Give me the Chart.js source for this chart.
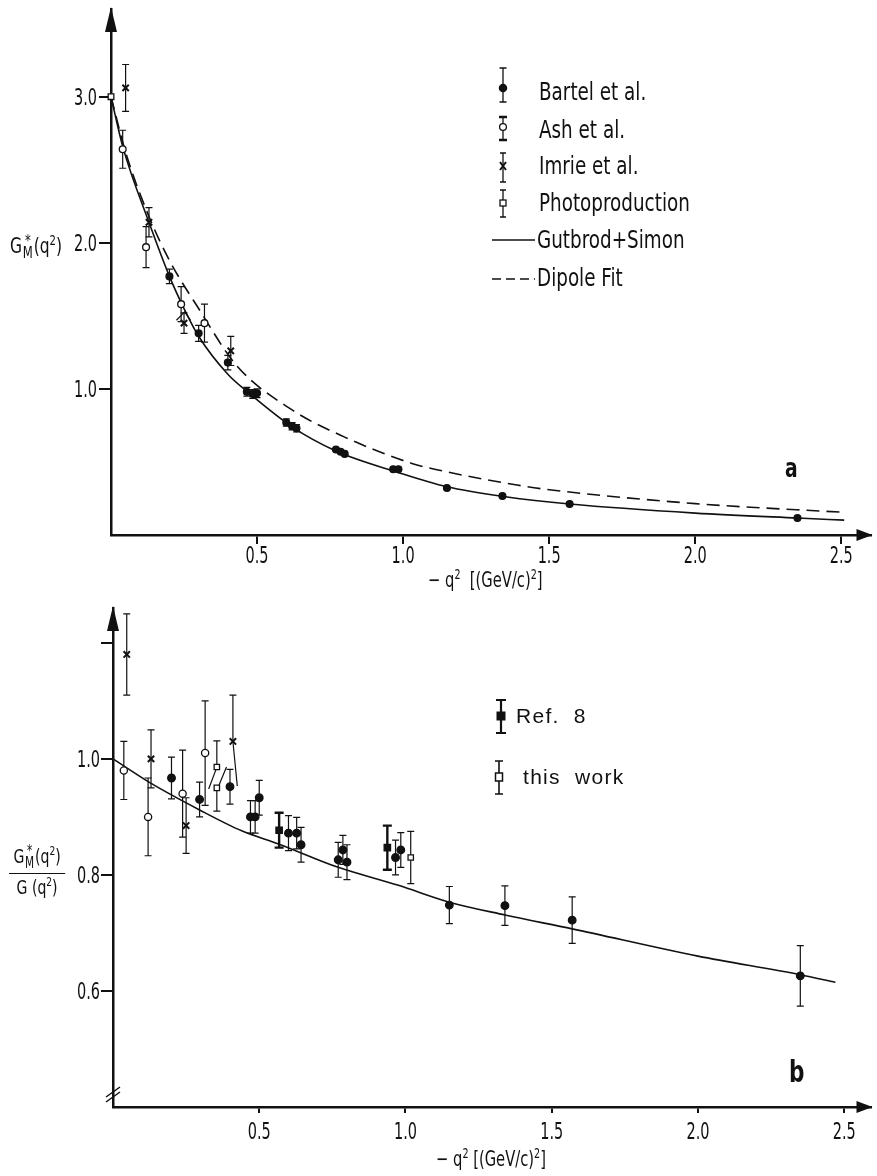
<!DOCTYPE html>
<html>
<head>
<meta charset="utf-8">
<script src="https://cdn.jsdelivr.net/npm/chart.js@4.4.1/dist/chart.umd.min.js"></script>
<style>
  body { margin: 0; background: #fff; width: 877px; height: 1176px; position: relative; overflow: hidden;
         font-family: 'DejaVu Sans Condensed', 'Liberation Sans', sans-serif; color: #111; }
  canvas { position: absolute; left: 0; }
  #cA { top: 0; }
  #cB { top: 590px; }
  .t { position: absolute; white-space: nowrap; line-height: 1; transform-origin: 0 0; }
  .lg { font-size: 24px; transform: scaleX(0.85); }
  .lg2 { font-family: 'Liberation Sans', 'DejaVu Sans', sans-serif; font-size: 21px; letter-spacing: 1.3px; word-spacing: 7px; }
  .ax { font-size: 21px; transform: scaleX(0.78); }
  .ss { display: inline-block; vertical-align: middle; line-height: 0.75; text-align: center; font-size: 0.75em; margin: 0 1px; }
  .ss span { display: block; }
  sup { font-size: 0.65em; vertical-align: 0.6em; line-height: 0; }
  .pl { font-weight: bold; transform: scaleX(0.8); }
  svg { position: absolute; left: 0; top: 0; }
</style>
</head>
<body>
<canvas id="cA" width="877" height="590"></canvas>
<canvas id="cB" width="877" height="586"></canvas>

<svg width="877" height="1176" stroke="#111" fill="none">
  <!-- legend glyphs, panel a -->
  <g stroke-width="1.3">
    <path d="M503 68V102M499.5 68H506.5M499.5 102H506.5"/>
    <circle cx="503" cy="88" r="3.6" fill="#111"/>
    <path d="M503 117V140" /><path d="M499 117H507M499 140H507" stroke-width="2.4"/>
    <circle cx="503" cy="127" r="3.4" fill="#fff"/>
    <path d="M503 153V182M500 153H506M500 182H506"/>
    <path d="M500 162L506 170M506 162L500 170" stroke-width="2"/>
    <path d="M503 190V217M500 190H506M500 217H506"/>
    <rect x="500" y="200" width="6" height="6" fill="#fff"/>
    <path d="M492 240H535" stroke-width="1.5"/>
    <path d="M492 279H535" stroke-width="1.5" stroke-dasharray="9 5"/>
  </g>
  <!-- legend glyphs, panel b -->
  <g>
    <path d="M501 700V733" stroke-width="2.2"/>
    <path d="M496 700H506M496 733H506" stroke-width="2.2"/>
    <rect x="497" y="712" width="8" height="8" fill="#111"/>
    <path d="M499 761V794M495 761H503M495 794H503" stroke-width="1.6"/>
    <rect x="495.5" y="773" width="7" height="8" fill="#fff" stroke-width="1.5"/>
  </g>
</svg>

<!-- panel a texts -->
<div class="t lg" style="left:539px;top:80px">Bartel et al.</div>
<div class="t lg" style="left:539px;top:118px">Ash et al.</div>
<div class="t lg" style="left:539px;top:154px">Imrie et al.</div>
<div class="t lg" style="left:539px;top:191px">Photoproduction</div>
<div class="t lg" style="left:537px;top:228px">Gutbrod+Simon</div>
<div class="t lg" style="left:537px;top:266px">Dipole Fit</div>
<div class="t ax" style="left:10px;top:235px;font-size:21px;transform:scaleX(0.82)">G<span class="ss"><span>*</span><span>M</span></span>(q<sup>2</sup>)</div>
<div class="t ax" style="left:428px;top:570px">− q<sup>2</sup> &nbsp;[(GeV/c)<sup>2</sup>]</div>
<div class="t pl" style="left:785px;top:455px;font-size:26px">a</div>

<!-- panel b texts -->
<div class="t lg2" style="left:516px;top:705px">Ref. 8</div>
<div class="t lg2" style="left:523px;top:766px">this work</div>
<div class="t ax" style="left:9px;top:846px;font-size:20px;width:72px;text-align:center">
  G<span class="ss"><span>*</span><span>M</span></span>(q<sup>2</sup>)
  <div style="border-top:1.5px solid #111;margin:4px 0 3px"></div>
  G (q<sup>2</sup>)
</div>
<div class="t ax" style="left:436px;top:1149px">− q<sup>2</sup> [(GeV/c)<sup>2</sup>]</div>
<div class="t pl" style="left:789px;top:1057px;font-size:30px">b</div>

<script>
// ---- panel a : G*_M(q^2) vs -q^2 ----
const bartelQ2a = [0.20, 0.30, 0.40, 0.465, 0.485, 0.50, 0.60, 0.62, 0.635, 0.77, 0.786, 0.80, 0.966, 0.984, 1.15, 1.34, 1.57, 2.35];
const bartelGa  = [1.77, 1.38, 1.18, 0.98, 0.965, 0.97, 0.77, 0.745, 0.73, 0.585, 0.57, 0.555, 0.45, 0.45, 0.322, 0.267, 0.212, 0.116];
const bartelEa  = [0.05, 0.055, 0.05, 0.03, 0.03, 0.03, 0.025, 0.025, 0.025, 0, 0, 0, 0, 0, 0, 0, 0, 0];

const ashQ2a = [0.04, 0.12, 0.24, 0.32];
const ashGa  = [2.64, 1.97, 1.58, 1.45];
const ashEa  = [0.13, 0.14, 0.12, 0.13];

const imrieQ2a = [0.05, 0.13, 0.25, 0.41];
const imrieGa  = [3.06, 2.14, 1.45, 1.26];
const imrieEa  = [0.16, 0.10, 0.07, 0.10];

const photoQ2a = [0.0];
const photoGa  = [3.0];

const linkQ2a = [0.224, 0.252, 0.272];
const linkGa  = [1.47, 1.527, 1.47];

const gsQ2a = [0, 0.04, 0.13, 0.20, 0.25, 0.30, 0.40, 0.47, 0.62, 0.77, 0.98, 1.15, 1.35, 1.57, 2.0, 2.35, 2.51];
const gsGa  = [3.0, 2.66, 2.14, 1.77, 1.55, 1.36, 1.10, 0.975, 0.74, 0.575, 0.43, 0.33, 0.262, 0.212, 0.15, 0.116, 0.102];

const dipQ2a = [0, 0.05, 0.13, 0.20, 0.30, 0.43, 0.62, 0.80, 1.03, 1.12, 1.39, 1.50, 2.0, 2.51];
const dipGa  = [3.0, 2.62, 2.18, 1.88, 1.55, 1.16, 0.856, 0.67, 0.49, 0.445, 0.342, 0.31, 0.215, 0.155];

const xTicksA = [0.5, 1.0, 1.5, 2.0, 2.5];
const xLabelsA = ['0.5', '1.0', '1.5', '2.0', '2.5'];
const yTicksA = [1.0, 2.0, 3.0];
const yLabelsA = ['1.0', '2.0', '3.0'];

// ---- panel b : G*_M / G vs -q^2 ----
const bartelQ2b = [0.20, 0.296, 0.40, 0.47, 0.486, 0.50, 0.60, 0.628, 0.643, 0.77, 0.786, 0.80, 0.966, 0.984, 1.15, 1.34, 1.57, 2.35];
const bartelRb  = [0.967, 0.93, 0.952, 0.90, 0.90, 0.933, 0.872, 0.872, 0.852, 0.826, 0.843, 0.822, 0.83, 0.843, 0.748, 0.747, 0.722, 0.626];
const bartelEb  = [0.036, 0.03, 0.03, 0.028, 0.028, 0.03, 0.03, 0.027, 0.03, 0.03, 0.025, 0.03, 0.03, 0.03, 0.032, 0.034, 0.04, 0.052];

const ashQ2b = [0.037, 0.12, 0.238, 0.315];
const ashRb  = [0.98, 0.90, 0.94, 1.01];
const ashEb  = [0.05, 0.067, 0.075, 0.09];

const imrieQ2b  = [0.047, 0.13, 0.25, 0.41];
const imrieRb   = [1.18, 1.00, 0.885, 1.03];
const imrieEHb  = [0.07, 0.05, 0.048, 0.08];
const imrieELb  = [0.07, 0.05, 0.048, 0];

const ref8Q2b = [0.568, 0.938];
const ref8Rb  = [0.877, 0.847];
const ref8Eb  = [0.03, 0.038];

const workQ2b  = [0.355, 0.355, 1.018];
const workRb   = [0.986, 0.95, 0.83];
const workEHb  = [0.045, 0, 0.045];
const workELb  = [0, 0.04, 0.045];

const linkQ2b = [0.327, 0.354, null, 0.357, 0.388, null, 0.41, 0.425];
const linkRb  = [0.948, 0.984, null, 0.948, 0.986, null, 1.03, 0.953];

const gsQ2b = [0, 0.126, 0.296, 0.44, 0.568, 0.77, 0.976, 1.15, 1.34, 1.57, 2.0, 2.35, 2.47];
const gsRb  = [1.0, 0.959, 0.912, 0.876, 0.853, 0.813, 0.782, 0.753, 0.731, 0.707, 0.66, 0.628, 0.615];

const xTicksB = [0.5, 1.0, 1.5, 2.0, 2.5];
const xLabelsB = ['0.5', '1.0', '1.5', '2.0', '2.5'];
const yTicksB = [0.6, 0.8, 1.0, 1.2];
const yLabelsB = ['0.6', '0.8', '1.0', ''];

const INK = '#111';
const FONT = "'DejaVu Sans Condensed', 'Liberation Sans', sans-serif";

const pts = (xs, ys) => xs.map((x, i) => ({ x: x, y: ys[i] }));
const gapPts = (xs, ys) => xs.map((x, i) => (x === null ? { x: NaN, y: null } : { x: x, y: ys[i] }));

// vertical error bars with caps, drawn through the chart scales
const errorBars = {
    id: 'errorBars',
    beforeDatasetsDraw(chart) {
        const { ctx, scales: { x, y } } = chart;
        ctx.save();
        ctx.strokeStyle = INK;
        chart.data.datasets.forEach(ds => {
            if (!ds.errHi) return;
            ctx.lineWidth = ds.barWidth || 1.2;
            const cap = ds.capHalf || 3.5;
            ds.data.forEach((p, i) => {
                const px = x.getPixelForValue(p.x);
                const py = y.getPixelForValue(p.y);
                [[ds.errHi[i], 1], [ds.errLo[i], -1]].forEach(([e, s]) => {
                    if (!e) return;
                    const ey = y.getPixelForValue(p.y + s * e);
                    ctx.beginPath();
                    ctx.moveTo(px, py); ctx.lineTo(px, ey);
                    ctx.moveTo(px - cap, ey); ctx.lineTo(px + cap, ey);
                    ctx.stroke();
                });
            });
        });
        ctx.restore();
    }
};

// narrow tick labels placed at the scale's own pixel positions
const tickLabels = {
    id: 'tickLabels',
    afterDraw(chart, args, opts) {
        const { ctx } = chart;
        ['x', 'y'].forEach(id => {
            const s = chart.scales[id];
            const o = opts[id];
            ctx.save();
            ctx.font = o.size + 'px ' + FONT;
            ctx.fillStyle = INK;
            ctx.textBaseline = 'alphabetic';
            o.ticks.forEach((v, i) => {
                const text = o.labels[i];
                if (!text) return;
                const p = s.getPixelForValue(v);
                ctx.save();
                if (id === 'x') {
                    ctx.translate(p, s.top + o.off);
                    ctx.textAlign = 'center';
                } else {
                    ctx.translate(s.right - o.off, p + o.size * 0.36);
                    ctx.textAlign = 'right';
                }
                ctx.scale(0.7, 1);
                ctx.fillText(text, 0, 0);
                ctx.restore();
            });
            ctx.restore();
        });
    }
};

// arrow heads on the axes, optional break mark on the y axis
const axisArrows = {
    id: 'axisArrows',
    afterDraw(chart, args, opts) {
        const { ctx, chartArea: a } = chart;
        ctx.save();
        ctx.fillStyle = INK;
        ctx.beginPath();
        ctx.moveTo(a.left, a.top - 2);
        ctx.lineTo(a.left - 6, a.top + 23);
        ctx.lineTo(a.left + 6, a.top + 23);
        ctx.closePath(); ctx.fill();
        ctx.beginPath();
        ctx.moveTo(a.right + 2, a.bottom);
        ctx.lineTo(a.right - 14, a.bottom - 6);
        ctx.lineTo(a.right - 14, a.bottom + 6);
        ctx.closePath(); ctx.fill();
        if (opts.brk) {
            ctx.strokeStyle = INK;
            ctx.lineWidth = 1.5;
            const b = a.bottom - 16;
            ctx.beginPath();
            ctx.moveTo(a.left - 7, b + 6); ctx.lineTo(a.left + 7, b - 4);
            ctx.moveTo(a.left - 7, b + 11); ctx.lineTo(a.left + 7, b + 1);
            ctx.stroke();
        }
        ctx.restore();
    }
};

function axis(min, max, ticks, tickLen) {
    return {
        type: 'linear', min: min, max: max,
        border: { display: true, color: INK, width: 2.5 },
        grid: { drawOnChartArea: false, drawTicks: true, tickLength: tickLen, color: INK, lineWidth: 2 },
        ticks: { display: false },
        afterBuildTicks: (s) => { s.ticks = ticks.map(v => ({ value: v })); }
    };
}

function marker(label, xs, ys, hi, lo, style, extra) {
    return Object.assign({
        label: label, data: pts(xs, ys), errHi: hi, errLo: lo,
        pointStyle: style, pointRadius: 3.6, pointBorderWidth: 1.3,
        borderColor: INK, backgroundColor: INK, showLine: false, clip: false
    }, extra || {});
}

function curve(label, xs, ys, dash) {
    return {
        label: label, data: pts(xs, ys), showLine: true, pointRadius: 0,
        borderColor: INK, borderWidth: 1.6, borderDash: dash || [],
        cubicInterpolationMode: 'monotone', fill: false
    };
}

const common = {
    responsive: false, animation: false, devicePixelRatio: 1,
    plugins: { legend: { display: false }, tooltip: { enabled: false } }
};

// panel a
const xa = axis(0, 2.6, xTicksA, 9);
xa.afterFit = (s) => { s.height = 55; };
const ya = axis(0, 3.6, yTicksA, 12);
ya.afterFit = (s) => { s.width = 111; };

new Chart(document.getElementById('cA'), {
    type: 'scatter',
    data: {
        datasets: [
            marker('Photoproduction', photoQ2a, photoGa, null, null, 'rect', { backgroundColor: '#fff', pointRadius: 4 }),
            marker('Imrie et al.', imrieQ2a, imrieGa, imrieEa, imrieEa, 'crossRot', { pointRadius: 4.5, pointBorderWidth: 2 }),
            marker('Ash et al.', ashQ2a, ashGa, ashEa, ashEa, 'circle', { backgroundColor: '#fff', pointRadius: 3.4 }),
            marker('Bartel et al.', bartelQ2a, bartelGa, bartelEa, bartelEa, 'circle', { pointRadius: 3.4 }),
            { label: 'links', data: pts(linkQ2a, linkGa), showLine: true, pointRadius: 0, borderColor: INK, borderWidth: 1.2 },
            curve('Gutbrod+Simon', gsQ2a, gsGa),
            curve('Dipole Fit', dipQ2a, dipGa, [13, 7])
        ]
    },
    options: Object.assign({}, common, {
        layout: { padding: { left: 0, top: 9, right: 2, bottom: 0 } },
        scales: { x: xa, y: ya },
        plugins: Object.assign({}, common.plugins, {
            axisArrows: { brk: false },
            tickLabels: {
                x: { ticks: xTicksA, labels: xLabelsA, size: 23, off: 28 },
                y: { ticks: yTicksA, labels: yLabelsA, size: 23, off: 14 }
            }
        })
    }),
    plugins: [errorBars, axisArrows, tickLabels]
});

// panel b
const xb = axis(0, 2.59, xTicksB, 6);
xb.afterFit = (s) => { s.height = 69; };
const yb = axis(0.4, 1.26, yTicksB, 12);
yb.afterFit = (s) => { s.width = 113; };

new Chart(document.getElementById('cB'), {
    type: 'scatter',
    data: {
        datasets: [
            marker('this work', workQ2b, workRb, workEHb, workELb, 'rect', { backgroundColor: '#fff', pointRadius: 3.8 }),
            marker('Ref. 8', ref8Q2b, ref8Rb, ref8Eb, ref8Eb, 'rect', { pointRadius: 4.5, barWidth: 2.4, capHalf: 4.5 }),
            marker('Imrie et al.', imrieQ2b, imrieRb, imrieEHb, imrieELb, 'crossRot', { pointRadius: 4.5, pointBorderWidth: 2 }),
            marker('Ash et al.', ashQ2b, ashRb, ashEb, ashEb, 'circle', { backgroundColor: '#fff', pointRadius: 3.6 }),
            marker('Bartel et al.', bartelQ2b, bartelRb, bartelEb, bartelEb, 'circle', { pointRadius: 3.8 }),
            { label: 'links', data: gapPts(linkQ2b, linkRb), showLine: true, spanGaps: false, pointRadius: 0, borderColor: INK, borderWidth: 1.2 },
            curve('Gutbrod+Simon', gsQ2b, gsRb)
        ]
    },
    options: Object.assign({}, common, {
        layout: { padding: { left: 0, top: 18, right: 0, bottom: 0 } },
        scales: { x: xb, y: yb },
        plugins: Object.assign({}, common.plugins, {
            axisArrows: { brk: true },
            tickLabels: {
                x: { ticks: xTicksB, labels: xLabelsB, size: 23, off: 32 },
                y: { ticks: yTicksB, labels: yLabelsB, size: 23, off: 13 }
            }
        })
    }),
    plugins: [errorBars, axisArrows, tickLabels]
});
</script>
</body>
</html>
